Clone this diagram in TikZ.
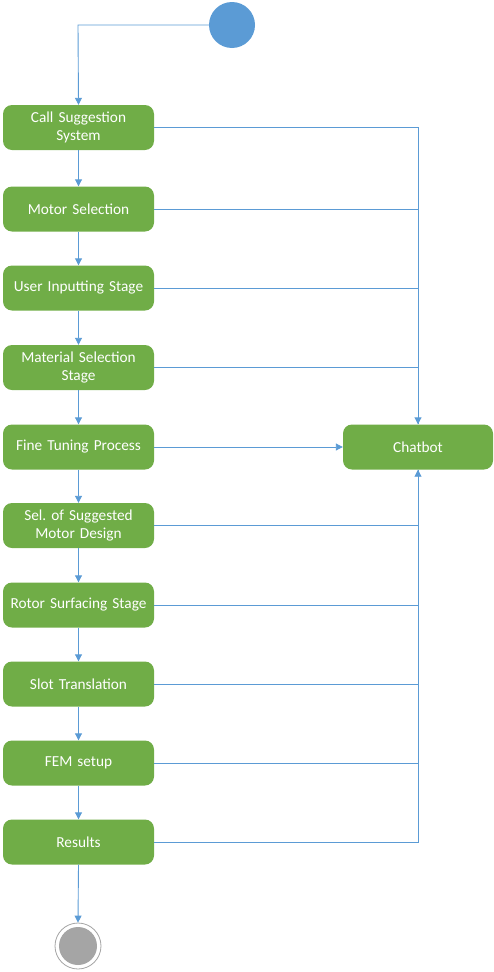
\documentclass[tikz,border=0pt]{standalone}
\usepackage{fontspec}
\setmainfont{Carlito}
\usetikzlibrary{arrows.meta}
\definecolor{lineblue}{HTML}{5B9BD5}
\definecolor{boxgreen}{HTML}{70AD47}
\definecolor{endgray}{HTML}{A5A5A5}
\frenchspacing
\tikzset{
  stepbox/.style={draw=none, fill=boxgreen, rounded corners=9pt, minimum width=149pt, minimum height=45pt, inner sep=2pt, text=white, align=center, font=\fontsize{15.3}{18.5}\selectfont, text width=147pt},
  conn/.style={draw=lineblue, line width=0.9pt, -{Triangle[width=7pt,length=7pt]}},
  plain/.style={draw=lineblue, line width=0.9pt},
}
\begin{document}
\begin{tikzpicture}[x=1pt,y=-1pt]
\useasboundingbox (0,0) rectangle (494,972);
\node[circle, fill=lineblue, minimum size=46pt, inner sep=0pt] (start) at (232,25) {};
\node[stepbox] (b1) at (78.5,127.5) {Call Suggestion\\System};
\node[stepbox] (b2) at (78.5,209) {Motor Selection};
\node[stepbox] (b3) at (78.5,288) {User Inputting Stage};
\node[stepbox] (b4) at (78.5,367.5) {Material Selection\\Stage};
\node[stepbox] (b5) at (78.5,447) {Fine Tuning Process};
\node[stepbox] (b6) at (78.5,525.5) {Sel. of Suggested\\Motor Design};
\node[stepbox] (b7) at (78.5,605) {Rotor Surfacing Stage};
\node[stepbox] (b8) at (78.5,684) {Slot Translation};
\node[stepbox] (b9) at (78.5,763) {FEM setup};
\node[stepbox] (b10) at (78.5,842) {Results};
\node[stepbox, minimum width=150pt, text width=146pt] (chat) at (418,447) {Chatbot};
\node[circle, draw=endgray, line width=0.8pt, fill=white, minimum size=46pt, inner sep=0pt] (end) at (78,946) {};
\node[circle, fill=endgray, minimum size=38pt, inner sep=0pt] at (end.center) {};
\coordinate (topcorner) at (78,25);
\draw[conn] (start.west) -- (topcorner) -- (b1.north);
\foreach \a/\b in {b1/b2,b2/b3,b3/b4,b4/b5,b5/b6,b6/b7,b7/b8,b8/b9,b9/b10,b10/end}{
  \draw[conn] (\a.south) -- (\b.north);
}
\foreach \a in {b1,b2,b3}{
  \draw[plain] (\a.east) -| (chat.north);
}
\draw[conn] (b4.east) -| (chat.north);
\draw[conn] (b5.east) -- (chat.west);
\foreach \a in {b7,b8,b9,b10}{
  \draw[plain] (\a.east) -| (chat.south);
}
\draw[conn] (b6.east) -| (chat.south);
\end{tikzpicture}
\end{document}
